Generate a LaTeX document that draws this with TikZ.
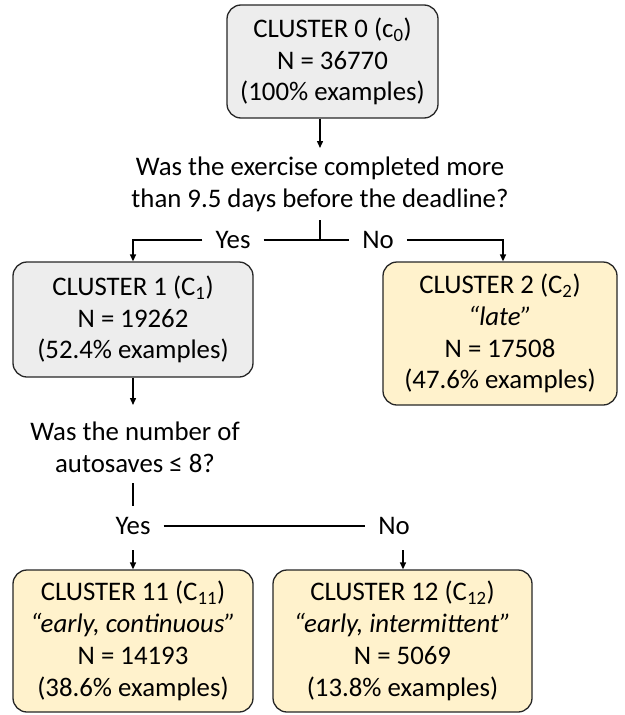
\documentclass[tikz,border=0pt]{standalone}
\usepackage{fontspec}
\setmainfont{Carlito}
\usetikzlibrary{arrows.meta}
\definecolor{boxgray}{HTML}{EDEDED}
\definecolor{boxyellow}{HTML}{FFF2CC}
\definecolor{edgecol}{HTML}{262626}
\tikzset{
  txt/.style={font=\fontsize{26.8}{31.8}\selectfont},
  cluster/.style={txt, draw=edgecol, line width=1.3pt, rounded corners=14pt, align=center, inner sep=0pt},
  grayc/.style={cluster, fill=boxgray},
  yellowc/.style={cluster, fill=boxyellow},
  question/.style={txt, align=center, inner sep=0pt},
  lbl/.style={txt, inner xsep=13pt, inner ysep=0pt},
  conn/.style={line width=1.4pt, draw=black},
  arr/.style={conn, -{Triangle[length=7pt,width=6pt]}},
}
\begin{document}
\begin{tikzpicture}[x=1pt,y=-1pt]
\useasboundingbox (0,0) rectangle (624,715);
% nodes
\node[grayc, minimum width=211pt, minimum height=113pt] (c0) at (332.5,61.5)
  {CLUSTER 0 (c\textsubscript{0})\\N = 36770\\(100\% examples)};
\node[question] (q1) at (320,184)
  {Was the exercise completed more\\than 9.5 days before the deadline?};
\node[lbl] (yes1) at (233,240) {Yes};
\node[lbl] (no1) at (378,240) {No};
\node[grayc, minimum width=240pt, minimum height=115pt] (c1) at (133,319.5)
  {CLUSTER 1 (C\textsubscript{1})\\N = 19262\\(52.4\% examples)};
\node[yellowc, minimum width=234pt, minimum height=143pt] (c2) at (500,333.5)
  {CLUSTER 2 (C\textsubscript{2})\\\textit{“late”}\\N = 17508\\(47.6\% examples)};
\node[question] (q2) at (135,447)
  {Was the number of\\autosaves ≤ 8?};
\node[lbl] (yes2) at (133,526) {Yes};
\node[lbl] (no2) at (394,526) {No};
\node[yellowc, minimum width=240pt, minimum height=142pt] (c11) at (133,641)
  {CLUSTER 11 (C\textsubscript{11})\\\textit{“early, continuous”}\\N = 14193\\(38.6\% examples)};
\node[yellowc, minimum width=259pt, minimum height=142pt] (c12) at (402.5,641)
  {CLUSTER 12 (C\textsubscript{12})\\\textit{“early, intermittent”}\\N = 5069\\(13.8\% examples)};
% coordinates
\coordinate (q1top) at (320,148);
\coordinate (s1a) at (320,220);
\coordinate (s1b) at (320,240);
\coordinate (q2top) at (133,405);
\coordinate (s2a) at (133,483);
\coordinate (s2b) at (133,506);
\coordinate (a11) at (133,550);
\coordinate (a12) at (403,550);
% connectors
\draw[arr] (c0.south -| q1top) -- (q1top);
\draw[conn] (s1a) -- (s1b);
\draw[conn] (yes1.east) -- (no1.west);
\draw[arr] (yes1.west) -| (c1.north);
\draw[arr] (no1.east) -| ([xshift=3pt]c2.north);
\draw[arr] (c1.south) -- (q2top);
\draw[conn] (s2a) -- (s2b);
\draw[conn] (yes2.east) -- (no2.west);
\draw[arr] (a11) -- (c11.north);
\draw[arr] (a12) -- (a12 |- c12.north);
\end{tikzpicture}
\end{document}
